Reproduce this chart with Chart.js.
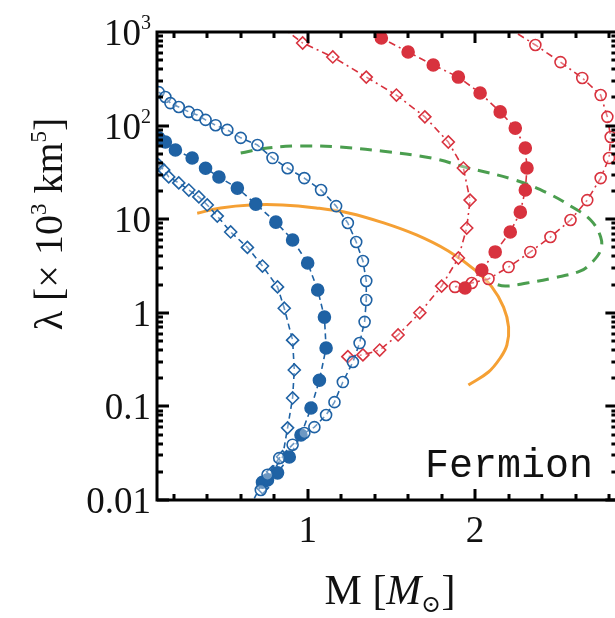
<!DOCTYPE html>
<html>
<head>
<meta charset="utf-8">
<script src="https://cdn.jsdelivr.net/npm/chart.js@4"></script>
<style>
  html, body { margin: 0; padding: 0; background: #fff; overflow: hidden; }
  #wrap { position: absolute; left: 0; top: 0; width: 625px; height: 618px; }
</style>
</head>
<body>
<div id="wrap"><canvas id="chart"></canvas></div>
<script>
// mass M [Msun] and tidal deformability lambda [10^3 km^5] along each sequence
var blueOpenM = [0.11, 0.15, 0.18, 0.23, 0.29, 0.34, 0.39, 0.45, 0.52, 0.60, 0.70, 0.79, 0.88, 0.98, 1.08, 1.17, 1.24, 1.29, 1.33, 1.35, 1.35, 1.34, 1.31, 1.27, 1.21, 1.16, 1.11, 1.04, 0.98, 0.91, 0.83, 0.76, 0.72];
var blueOpenL = [228, 202, 174, 158, 140, 130, 115, 101, 90, 74, 62, 45, 35, 27.5, 20.5, 13.8, 9.1, 5.7, 3.57, 2.19, 1.37, 0.80, 0.475, 0.298, 0.182, 0.111, 0.081, 0.060, 0.052, 0.039, 0.028, 0.0186, 0.0128];

var blueFullM = [0.11, 0.15, 0.21, 0.31, 0.39, 0.47, 0.58, 0.69, 0.81, 0.91, 1.00, 1.06, 1.10, 1.11, 1.07, 1.02, 0.96, 0.89, 0.82, 0.76, 0.73, 0.67];
var blueFullL = [74, 66.8, 54.8, 45, 35, 28.2, 21.5, 14.5, 9.3, 6.0, 3.4, 1.75, 0.90, 0.42, 0.19, 0.096, 0.0495, 0.0288, 0.0195, 0.0164, 0.0155, 0.0095];

var blueDiaM = [0.11, 0.14, 0.17, 0.23, 0.29, 0.35, 0.40, 0.46, 0.54, 0.64, 0.73, 0.82, 0.86, 0.91, 0.92, 0.91, 0.88, 0.85, 0.79, 0.73];
var blueDiaL = [38, 33.6, 28.3, 24.4, 20.5, 17.3, 14.2, 10.8, 7.3, 5.0, 3.16, 1.89, 1.12, 0.51, 0.245, 0.123, 0.059, 0.029, 0.020, 0.0135];

var redDiaM = [0.83, 0.97, 1.15, 1.35, 1.53, 1.70, 1.84, 1.93, 1.97, 1.95, 1.90, 1.80, 1.67, 1.54, 1.43, 1.33, 1.24];
var redDiaL = [1190, 763, 541, 330, 212, 124, 66.8, 35.2, 16.0, 8.05, 3.85, 1.93, 1.0, 0.58, 0.40, 0.355, 0.34];

var redFullM = [1.31, 1.44, 1.60, 1.75, 1.90, 2.03, 2.15, 2.24, 2.30, 2.31, 2.30, 2.27, 2.21, 2.12, 2.04, 1.94];
var redFullL = [1188, 863, 611, 444, 330, 223, 140, 94, 57.7, 35.2, 20.5, 11.9, 7.3, 4.47, 2.86, 1.84];

var redOpenM = [2.17, 2.36, 2.51, 2.64, 2.75, 2.79, 2.81, 2.80, 2.75, 2.67, 2.57, 2.45, 2.33, 2.20, 2.08, 1.98, 1.88];
var redOpenL = [1188, 727, 477, 323, 212, 124, 75.5, 45, 27.5, 16.0, 9.8, 6.45, 4.47, 3.08, 2.30, 2.08, 1.89];

var greenM = [0.60, 0.76, 0.95, 1.19, 1.44, 1.74, 1.94, 2.24, 2.43, 2.58, 2.69, 2.75, 2.75, 2.70, 2.63, 2.47, 2.31, 2.18, 2.10];
var greenL = [51, 57.7, 60.6, 59, 53.5, 45, 36, 26.2, 19.1, 13.5, 9.8, 6.45, 4.69, 3.49, 2.80, 2.36, 2.08, 1.93, 2.08];

var orangeM = [0.34, 0.48, 0.66, 0.85, 1.05, 1.25, 1.44, 1.65, 1.84, 2.00, 2.10, 2.17, 2.20, 2.19, 2.15, 2.08, 1.96];
var orangeL = [11.6, 13.2, 14.2, 14.2, 13.2, 11.6, 9.3, 6.78, 4.57, 2.86, 1.89, 1.15, 0.705, 0.453, 0.329, 0.233, 0.169];

var xTicks = [1, 2];
var yTicks = [1000, 100, 10, 1, 0.1, 0.01];
var yTickText = [["10", "3"], ["10", "2"], ["10", ""], ["1", ""], ["0.1", ""], ["0.01", ""]];
var panelLabel = "Fermion";

var BLUE = "#1f62a4";
var RED = "#d8323e";
var GREEN = "#4b9e4f";
var ORANGE = "#f5a034";
var SERIF = '"Liberation Serif", "DejaVu Serif", serif';

function pts(ms, ls) {
  return ms.map(function (m, i) { return { x: m, y: ls[i] }; });
}

// first/last entries of some sequences run off the frame: no marker there
function radiusSkip(r, first, last) {
  return function (c) {
    var n = c.dataset.data.length;
    if (first && c.dataIndex === 0) return 0;
    if (last && c.dataIndex === n - 1) return 0;
    return r;
  };
}

function markerSet(label, color, ms, ls, style, filled, dash, r, skipFirst, skipLast) {
  return {
    label: label,
    data: pts(ms, ls),
    borderColor: color,
    borderWidth: 1.6,
    borderDash: dash,
    pointStyle: style,
    pointRadius: radiusSkip(r, skipFirst, skipLast),
    pointBorderWidth: 1.6,
    pointBorderColor: color,
    pointBackgroundColor: filled ? color : "rgba(255,255,255,0.35)",
    tension: 0
  };
}

var blueDash = [6, 4];
var redDash = [7, 4, 2, 4];

var datasets = [
  markerSet("blue open", BLUE, blueOpenM, blueOpenL, "circle", false, blueDash, 5.5, false, false),
  markerSet("blue filled", BLUE, blueFullM, blueFullL, "circle", true, blueDash, 6, false, true),
  markerSet("blue diamond", BLUE, blueDiaM, blueDiaL, "rectRot", false, blueDash, 6, false, false),
  markerSet("red diamond", RED, redDiaM, redDiaL, "rectRot", false, redDash, 6, true, false),
  markerSet("red filled", RED, redFullM, redFullL, "circle", true, redDash, 6, true, false),
  markerSet("red open", RED, redOpenM, redOpenL, "circle", false, redDash, 5.5, true, false),
  {
    label: "green",
    data: pts(greenM, greenL),
    borderColor: GREEN,
    borderWidth: 3,
    borderDash: [12, 8],
    pointRadius: 0,
    tension: 0.4
  },
  {
    label: "orange",
    data: pts(orangeM, orangeL),
    borderColor: ORANGE,
    borderWidth: 3,
    pointRadius: 0,
    tension: 0.4
  }
];

function line(ctx, x1, y1, x2, y2) {
  ctx.beginPath();
  ctx.moveTo(x1, y1);
  ctx.lineTo(x2, y2);
  ctx.stroke();
}

// heavy frame with inward ticks on all four sides
var framePlugin = {
  id: "frame",
  afterDatasetsDraw: function (chart) {
    var ctx = chart.ctx, a = chart.chartArea;
    var xs = chart.scales.x, ys = chart.scales.y;
    ctx.save();
    ctx.strokeStyle = "#000";
    ctx.lineWidth = 3;
    ctx.lineCap = "butt";
    ctx.strokeRect(a.left, a.top, a.right - a.left, a.bottom - a.top);
    for (var i = 1; i <= 14; i++) {
      var px = Math.round(xs.getPixelForValue(i * 0.2));
      var len = i % 5 === 0 ? 11 : 6;
      line(ctx, px, a.bottom, px, a.bottom - len);
      line(ctx, px, a.top, px, a.top + len);
    }
    for (var e = -2; e <= 2; e++) {
      for (var k = 1; k <= 9; k++) {
        var py = Math.round(ys.getPixelForValue(k * Math.pow(10, e)));
        var l2 = k === 1 ? 12 : 6;
        line(ctx, a.left, py, a.left + l2, py);
        line(ctx, a.right, py, a.right - l2, py);
      }
    }
    ctx.restore();
  },
  afterDraw: function (chart) {
    var ctx = chart.ctx, a = chart.chartArea;
    var xs = chart.scales.x, ys = chart.scales.y;
    ctx.save();
    ctx.fillStyle = "#111";

    // y tick labels, superscript exponents
    ctx.textBaseline = "alphabetic";
    yTicks.forEach(function (v, i) {
      var py = ys.getPixelForValue(v);
      var base = yTickText[i][0], sup = yTickText[i][1];
      ctx.font = "20px " + SERIF;
      var sw = sup ? ctx.measureText(sup).width : 0;
      var right = 151;
      if (sup) {
        ctx.textAlign = "right";
        ctx.fillText(sup, right, py - 3);
      }
      ctx.font = "37px " + SERIF;
      ctx.textAlign = "right";
      ctx.fillText(base, right - sw, py + 13);
    });

    // x tick labels
    ctx.font = "37px " + SERIF;
    ctx.textAlign = "center";
    xTicks.forEach(function (v) {
      ctx.fillText(String(v), xs.getPixelForValue(v), 542);
    });

    // x title: M [M_sun]
    var parts = [
      { t: "M [", f: "42px " + SERIF, dy: 0 },
      { t: "M", f: "italic 42px " + SERIF, dy: 0 },
      { t: "\u2299", f: "24px " + SERIF, dy: 8 },
      { t: "]", f: "42px " + SERIF, dy: 0 }
    ];
    var total = 0;
    parts.forEach(function (p) { ctx.font = p.f; p.w = ctx.measureText(p.t).width; total += p.w; });
    var x0 = 390 - total / 2;
    ctx.textAlign = "left";
    parts.forEach(function (p) {
      ctx.font = p.f;
      ctx.fillText(p.t, x0, 604 + p.dy);
      x0 += p.w;
    });

    // y title, rotated
    ctx.translate(62, 224);
    ctx.rotate(-Math.PI / 2);
    var yparts = [
      { t: "\u03bb [\u00d7 10", f: "40px " + SERIF, dy: 0 },
      { t: "3", f: "23px " + SERIF, dy: -16 },
      { t: " km", f: "40px " + SERIF, dy: 0 },
      { t: "5", f: "23px " + SERIF, dy: -16 },
      { t: "]", f: "40px " + SERIF, dy: 0 }
    ];
    total = 0;
    yparts.forEach(function (p) { ctx.font = p.f; p.w = ctx.measureText(p.t).width; total += p.w; });
    x0 = -total / 2;
    yparts.forEach(function (p) {
      ctx.font = p.f;
      ctx.fillText(p.t, x0, p.dy);
      x0 += p.w;
    });
    ctx.restore();

    // panel label
    ctx.save();
    ctx.fillStyle = "#111";
    ctx.font = '40px "Liberation Mono", "DejaVu Sans Mono", monospace';
    ctx.textAlign = "left";
    ctx.fillText(panelLabel, 425, 477);
    ctx.restore();
  }
};

var ctx = document.getElementById("chart").getContext("2d");

const chart = new Chart(ctx, {
  type: "line",
  data: { datasets: datasets },
  options: {
    responsive: true,
    maintainAspectRatio: false,
    animation: false,
    layout: { padding: { top: 32, right: 3, left: 0, bottom: 0 } },
    plugins: { legend: { display: false }, tooltip: { enabled: false } },
    scales: {
      x: {
        type: "linear",
        min: 0.1,
        max: 2.85,
        grid: { display: false },
        border: { display: false },
        ticks: { display: false },
        afterFit: function (s) { s.height = 118; }
      },
      y: {
        type: "logarithmic",
        min: 0.01,
        max: 1000,
        grid: { display: false },
        border: { display: false },
        ticks: { display: false },
        afterFit: function (s) { s.width = 157; }
      }
    }
  },
  plugins: [framePlugin]
});
</script>
</body>
</html>
